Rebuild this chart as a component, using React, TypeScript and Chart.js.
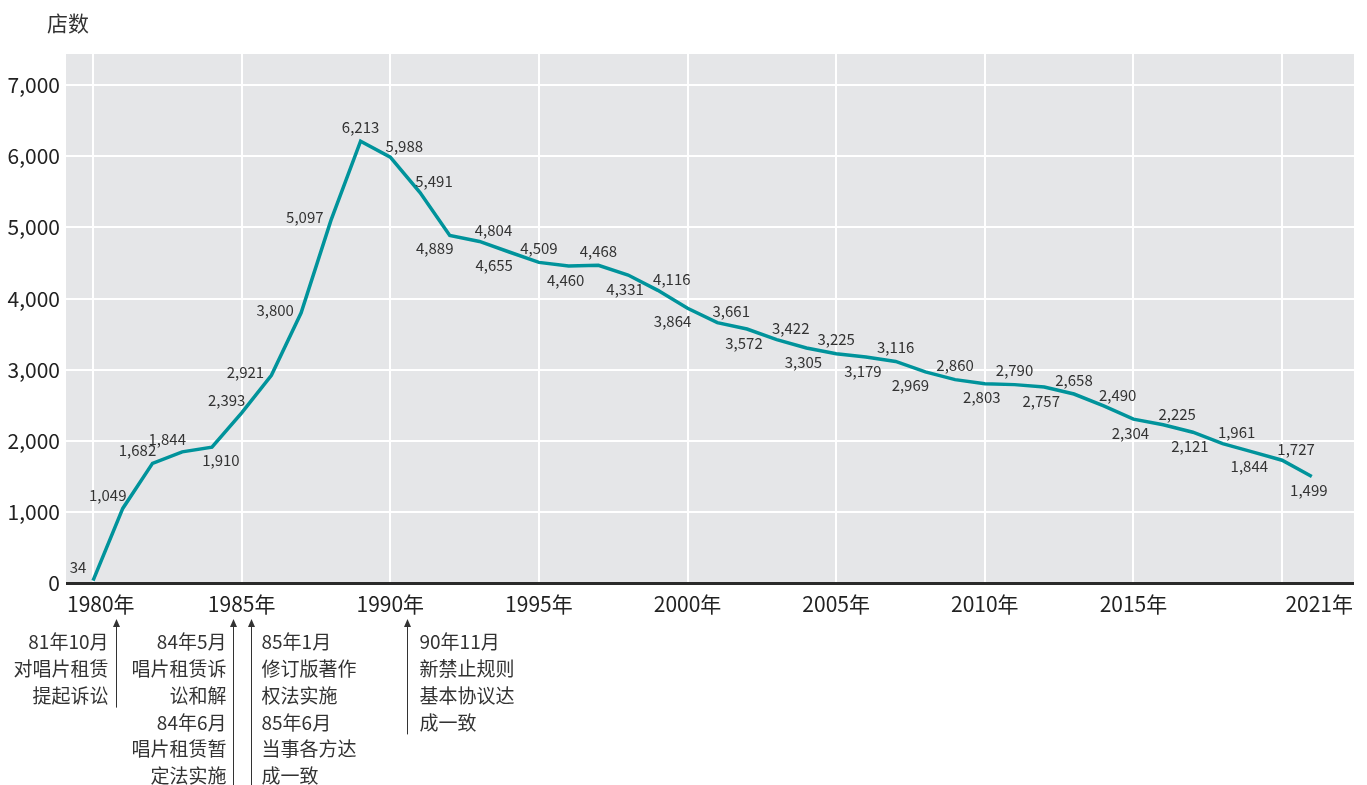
import React, { useEffect, useRef } from "react";
import { Chart, registerables } from "chart.js";

Chart.register(...registerables);

// ---- data ----
const years: number[] = [
  1980, 1981, 1982, 1983, 1984, 1985, 1986, 1987, 1988, 1989,
  1990, 1991, 1992, 1993, 1994, 1995, 1996, 1997, 1998, 1999,
  2000, 2001, 2002, 2003, 2004, 2005, 2006, 2007, 2008, 2009,
  2010, 2011, 2012, 2013, 2014, 2015, 2016, 2017, 2018, 2019,
  2020, 2021,
];
const stores: number[] = [
  34, 1049, 1682, 1844, 1910, 2393, 2921, 3800, 5097, 6213,
  5988, 5491, 4889, 4804, 4655, 4509, 4460, 4468, 4331, 4116,
  3864, 3661, 3572, 3422, 3305, 3225, 3179, 3116, 2969, 2860,
  2803, 2790, 2757, 2658, 2490, 2304, 2225, 2121, 1961, 1844,
  1727, 1499,
];
// label placement per point (style codes)
const labelPlacement: string[] = [
  "ul", "ul", "ul", "ul", "dr", "ul", "l", "l", "l", "u",
  "ur", "ur", "dl", "ur", "dl", "u", "d", "u", "d", "ur",
  "dl", "ur", "d", "ur", "d", "u", "d", "u", "dl", "u",
  "d", "u", "d", "u", "ur", "d", "ur", "d", "ur", "d",
  "ur", "d",
];
const xTickYears: number[] = [1980, 1985, 1990, 1995, 2000, 2005, 2010, 2015, 2021];
const xGridYears: number[] = [1980, 1985, 1990, 1995, 2000, 2005, 2010, 2015, 2020];
const yTicks: number[] = [0, 1000, 2000, 3000, 4000, 5000, 6000, 7000];
const yAxisTitle = "店数";

const annotationDates: number[] = [1980.77, 1984.7, 1985.3, 1990.55];
const annotationSides: string[] = ["left", "left", "right", "right"];
const annotationTexts: string[][] = [
  ["81年10月", "对唱片租赁", "提起诉讼"],
  ["84年5月", "唱片租赁诉", "讼和解", "84年6月", "唱片租赁暂", "定法实施"],
  ["85年1月", "修订版著作", "权法实施", "85年6月", "当事各方达", "成一致"],
  ["90年11月", "新禁止规则", "基本协议达", "成一致"],
];

const FONT = '"Noto Sans CJK SC", "Noto Sans", sans-serif';
const TEXT = "#333333";
const LINE = "#00939b";
const PLOT_BG = "#e5e6e8";

const offsets: Record<string, [number, number]> = {
  ul: [-15, -13],
  l: [-26, -3],
  u: [0, -14],
  ur: [14, -11],
  dl: [-15, 13],
  d: [-3, 14],
  dr: [9, 13],
};

const fmt = (v: number) => v.toLocaleString("en-US");

const decorPlugin = {
  id: "decor",
  beforeDraw(chart: any) {
    const { ctx, chartArea } = chart;
    ctx.save();
    ctx.fillStyle = PLOT_BG;
    ctx.fillRect(chartArea.left, chartArea.top, chartArea.right - chartArea.left, chartArea.bottom - chartArea.top);
    ctx.restore();
  },
  beforeDatasetsDraw(chart: any) {
    const { ctx, chartArea } = chart;
    ctx.save();
    ctx.strokeStyle = "#2a2a2a";
    ctx.lineWidth = 3;
    ctx.beginPath();
    ctx.moveTo(chartArea.left, chartArea.bottom + 0.5);
    ctx.lineTo(chartArea.right, chartArea.bottom + 0.5);
    ctx.stroke();
    ctx.restore();
  },
  afterDraw(chart: any) {
    const { ctx, chartArea, scales } = chart;
    const xs = scales.x;
    const ys = scales.y;
    ctx.save();

    // title
    ctx.fillStyle = TEXT;
    ctx.font = `21px ${FONT}`;
    ctx.textAlign = "left";
    ctx.textBaseline = "middle";
    ctx.fillText(yAxisTitle, 47, 23);

    // data labels
    ctx.font = `15px ${FONT}`;
    ctx.textAlign = "center";
    ctx.textBaseline = "middle";
    ctx.fillStyle = TEXT;
    years.forEach((yr, i) => {
      const px = xs.getPixelForValue(yr);
      const py = ys.getPixelForValue(stores[i]);
      const [dx, dy] = offsets[labelPlacement[i]] || [0, -14];
      ctx.fillText(fmt(stores[i]), px + dx, py + dy);
    });

    // x tick labels
    ctx.font = `21px ${FONT}`;
    ctx.fillStyle = "#222222";
    ctx.textBaseline = "middle";
    xTickYears.forEach((yr, i) => {
      const label = `${yr}年`;
      let px = xs.getPixelForValue(yr);
      if (i === 0) {
        ctx.textAlign = "left";
        px = chartArea.left + 1;
      } else if (i === xTickYears.length - 1) {
        ctx.textAlign = "right";
        px = chartArea.right - 1;
      } else {
        ctx.textAlign = "center";
      }
      ctx.fillText(label, px, chartArea.bottom + 21);
    });

    // annotations
    ctx.font = `19px ${FONT}`;
    ctx.fillStyle = TEXT;
    ctx.strokeStyle = "#333333";
    ctx.lineWidth = 1;
    const top = chartArea.bottom + 36;
    const lineH = 26.8;
    const firstY = chartArea.bottom + 59;
    annotationDates.forEach((d, i) => {
      const ax = Math.round(xs.getPixelForValue(d)) + 0.5;
      const lines = annotationTexts[i];
      const bottom = firstY + (lines.length - 1) * lineH + 12;
      ctx.beginPath();
      ctx.moveTo(ax, top + 6);
      ctx.lineTo(ax, bottom);
      ctx.stroke();
      ctx.beginPath();
      ctx.moveTo(ax, top);
      ctx.lineTo(ax - 3.5, top + 8);
      ctx.lineTo(ax + 3.5, top + 8);
      ctx.closePath();
      ctx.fill();
      const left = annotationSides[i] === "left";
      ctx.textAlign = left ? "right" : "left";
      const gap = left ? (i === 0 ? 8 : 7) : i === 3 ? 12 : 10;
      lines.forEach((t, j) => {
        ctx.fillText(t, left ? ax - gap : ax + gap, firstY + j * lineH);
      });
    });

    ctx.restore();
  },
};

export default function App() {
  const ref = useRef<HTMLCanvasElement | null>(null);
  useEffect(() => {
    if (!ref.current) return;
    const chart = new Chart(ref.current, {
      type: "line",
      data: {
        datasets: [
          {
            data: years.map((y, i) => ({ x: y, y: stores[i] })),
            borderColor: LINE,
            borderWidth: 3.5,
            pointRadius: 0,
            tension: 0,
            fill: false,
          },
        ],
      },
      options: {
        responsive: false,
        animation: false,
        devicePixelRatio: 1,
        layout: { padding: { top: 54, right: 13, left: 0, bottom: 0 } },
        plugins: { legend: { display: false }, tooltip: { enabled: false } },
        scales: {
          x: {
            type: "linear",
            min: 1979.09,
            max: 2022.42,
            border: { display: false },
            grid: { color: "#ffffff", lineWidth: 2, drawTicks: false },
            ticks: { display: false },
            afterBuildTicks: (s: any) => {
              s.ticks = xGridYears.map((v) => ({ value: v }));
            },
            afterFit: (s: any) => {
              s.height = 202;
            },
          },
          y: {
            type: "linear",
            min: 0,
            max: 7440,
            border: { display: false },
            grid: { color: "#ffffff", lineWidth: 2, drawTicks: false },
            ticks: {
              padding: 6,
              color: "#222222",
              font: { size: 21, family: FONT },
              callback: (v: any) => fmt(Number(v)),
            },
            afterBuildTicks: (s: any) => {
              s.ticks = yTicks.map((v) => ({ value: v }));
            },
            afterFit: (s: any) => {
              s.width = 66;
            },
          },
        },
      },
      plugins: [decorPlugin],
    } as any);
    return () => chart.destroy();
  }, []);
  return (
    <div style={{ position: "absolute", left: 0, top: 0, width: 1367, height: 785, background: "#fff" }}>
      <canvas ref={ref} width={1367} height={785} style={{ display: "block" }} />
    </div>
  );
}
